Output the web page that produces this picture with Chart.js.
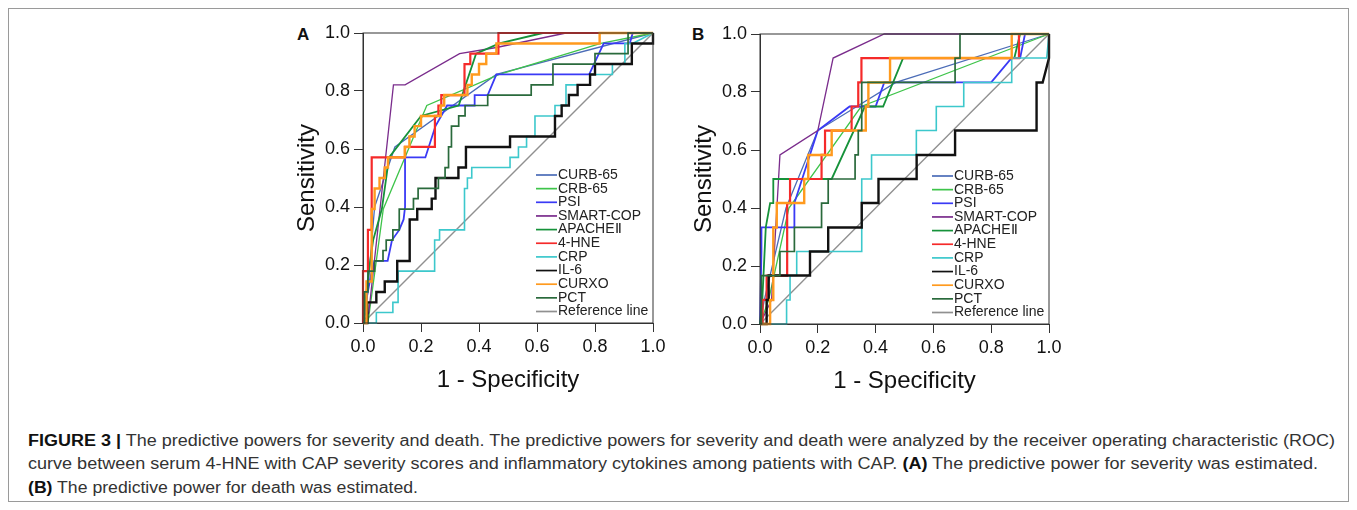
<!DOCTYPE html>
<html>
<head>
<meta charset="utf-8">
<script src="https://cdn.jsdelivr.net/npm/chart.js@4.4.0/dist/chart.umd.min.js"></script>
<style>
  body { margin: 0; background: #fff; font-family: "Liberation Sans", Arial, sans-serif; }
  #frame { position: absolute; left: 8px; top: 8px; width: 1339px; height: 492px; border: 1px solid #9a9a9a; }
  .panel { position: absolute; }
  .tag { position: absolute; font-weight: bold; font-size: 17px; color: #111; }
  .cap { position: absolute; left: 28px; font-size: 16px; line-height: 20px; color: #333; white-space: nowrap; transform-origin: 0 0; }
  .cap b { color: #111; }
</style>
</head>
<body>
<div id="frame"></div>
<div class="tag" style="left:297px;top:25px">A</div>
<div class="tag" style="left:692px;top:25px">B</div>
<div class="panel" style="left:285px;top:15px"><canvas id="chartA" width="385" height="385"></canvas></div>
<div class="panel" style="left:682px;top:16px"><canvas id="chartB" width="384" height="385"></canvas></div>
<div class="cap" data-w="1307" style="top:431px"><b>FIGURE 3 |</b> The predictive powers for severity and death. The predictive powers for severity and death were analyzed by the receiver operating characteristic (ROC)</div>
<div class="cap" data-w="1290" style="top:454px">curve between serum 4-HNE with CAP severity scores and inflammatory cytokines among patients with CAP. <b>(A)</b> The predictive power for severity was estimated.</div>
<div class="cap" data-w="390" style="top:478px"><b>(B)</b> The predictive power for death was estimated.</div>

<script>
  const fam = '"Liberation Sans", Arial, sans-serif';
  const seriesNames = ['CURB-65', 'CRB-65', 'PSI', 'SMART-COP', 'APACHEⅡ', '4-HNE', 'CRP', 'IL-6', 'CURXO', 'PCT', 'Reference line'];
  const tickLabels = ['0.0', '0.2', '0.4', '0.6', '0.8', '1.0'];

  // panel A - severity (points are [1 - specificity, sensitivity])
  const curb65A = [[0,0],[0.01,0.036],[0.04,0.4],[0.11,0.607],[0.46,0.857],[1,1]];
  const crb65A = [[0,0],[0.017,0],[0.07,0.393],[0.22,0.75],[0.47,0.857],[0.82,0.964],[1,1]];
  const psiA = [[0,0],[0.01,0.071],[0.03,0.179],[0.04,0.214],[0.085,0.214],[0.1,0.286],[0.125,0.321],[0.14,0.357],[0.145,0.4],[0.145,0.571],[0.215,0.571],[0.25,0.679],[0.29,0.75],[0.385,0.75],[0.385,0.786],[0.43,0.786],[0.46,0.857],[0.78,0.857],[0.83,0.964],[0.92,0.964],[0.93,1],[1,1]];
  const smartCopA = [[0,0],[0.02,0.036],[0.105,0.821],[0.145,0.821],[0.333,0.929],[0.46,0.95],[0.7,1],[1,1]];
  const apacheA = [[0,0],[0.02,0.179],[0.035,0.286],[0.065,0.393],[0.09,0.571],[0.2,0.714],[0.33,0.75],[0.39,0.929],[0.47,0.964],[0.62,1],[1,1]];
  const hneA = [[0,0],[0,0.179],[0.017,0.179],[0.017,0.321],[0.03,0.321],[0.03,0.571],[0.145,0.571],[0.145,0.607],[0.248,0.607],[0.248,0.714],[0.26,0.714],[0.26,0.75],[0.27,0.75],[0.27,0.786],[0.35,0.786],[0.35,0.893],[0.37,0.893],[0.37,0.929],[0.467,0.929],[0.467,1],[1,1]];
  const crpA = [[0,0],[0.046,0],[0.046,0.036],[0.103,0.036],[0.103,0.071],[0.121,0.071],[0.121,0.179],[0.247,0.179],[0.247,0.286],[0.264,0.286],[0.264,0.321],[0.35,0.321],[0.35,0.464],[0.36,0.464],[0.36,0.5],[0.375,0.5],[0.375,0.536],[0.507,0.536],[0.507,0.571],[0.536,0.571],[0.536,0.607],[0.564,0.607],[0.564,0.643],[0.593,0.643],[0.593,0.714],[0.662,0.714],[0.662,0.75],[0.7,0.75],[0.7,0.821],[0.783,0.821],[0.783,0.857],[0.86,0.857],[0.86,0.893],[0.903,0.893],[0.903,0.964],[0.93,0.964],[1,1]];
  const il6A = [[0,0],[0.015,0],[0.015,0.071],[0.046,0.071],[0.046,0.107],[0.075,0.107],[0.075,0.143],[0.118,0.143],[0.118,0.214],[0.161,0.214],[0.161,0.357],[0.187,0.357],[0.187,0.393],[0.237,0.393],[0.237,0.429],[0.25,0.429],[0.25,0.5],[0.329,0.5],[0.329,0.536],[0.355,0.536],[0.355,0.607],[0.507,0.607],[0.507,0.643],[0.662,0.643],[0.662,0.714],[0.685,0.714],[0.685,0.75],[0.71,0.75],[0.71,0.786],[0.74,0.786],[0.74,0.821],[0.783,0.821],[0.783,0.857],[0.8,0.857],[0.8,0.893],[0.927,0.893],[0.927,0.964],[1,0.964],[1,1]];
  const curxoA = [[0,0],[0.012,0],[0.012,0.143],[0.03,0.143],[0.03,0.393],[0.04,0.393],[0.04,0.464],[0.057,0.464],[0.057,0.5],[0.075,0.5],[0.075,0.536],[0.086,0.536],[0.086,0.571],[0.144,0.571],[0.144,0.607],[0.16,0.607],[0.16,0.643],[0.178,0.643],[0.178,0.679],[0.2,0.679],[0.2,0.714],[0.268,0.714],[0.268,0.75],[0.28,0.75],[0.28,0.786],[0.36,0.786],[0.36,0.821],[0.375,0.821],[0.375,0.857],[0.4,0.857],[0.4,0.893],[0.425,0.893],[0.425,0.929],[0.46,0.929],[0.46,0.964],[0.816,0.964],[0.816,1],[1,1]];
  const pctA = [[0,0],[0.005,0],[0.005,0.107],[0.017,0.107],[0.017,0.179],[0.04,0.179],[0.04,0.214],[0.069,0.214],[0.069,0.25],[0.08,0.25],[0.08,0.286],[0.103,0.286],[0.103,0.321],[0.125,0.321],[0.125,0.393],[0.174,0.393],[0.174,0.429],[0.19,0.429],[0.19,0.464],[0.26,0.464],[0.26,0.5],[0.283,0.5],[0.283,0.536],[0.295,0.536],[0.295,0.607],[0.305,0.607],[0.305,0.679],[0.33,0.679],[0.33,0.714],[0.352,0.714],[0.352,0.75],[0.43,0.75],[0.43,0.786],[0.58,0.786],[0.58,0.821],[0.655,0.821],[0.655,0.893],[0.8,0.893],[0.8,0.929],[0.914,0.929],[0.914,1],[1,1]];

  // panel B - death
  const curb65B = [[0,0],[0.015,0.083],[0.09,0.4],[0.2,0.667],[0.47,0.833],[1,1]];
  const crb65B = [[0,0],[0.03,0.083],[0.1,0.4],[0.35,0.75],[1,1]];
  const psiB = [[0,0],[0.005,0.25],[0.005,0.333],[0.119,0.333],[0.119,0.417],[0.2,0.667],[0.31,0.75],[0.4,0.75],[0.43,0.833],[0.8,0.833],[0.87,0.917],[0.9,0.917],[0.917,1],[1,1]];
  const smartCopB = [[0,0],[0.04,0.083],[0.069,0.583],[0.2,0.667],[0.253,0.917],[0.43,1],[1,1]];
  const apacheB = [[0,0],[0.008,0.083],[0.02,0.333],[0.035,0.417],[0.046,0.417],[0.046,0.5],[0.248,0.5],[0.363,0.75],[0.426,0.75],[0.495,0.917],[0.88,0.917],[0.9,1],[1,1]];
  const hneB = [[0,0],[0.009,0],[0.009,0.083],[0.023,0.083],[0.023,0.167],[0.094,0.167],[0.094,0.417],[0.104,0.417],[0.104,0.5],[0.213,0.5],[0.213,0.583],[0.225,0.583],[0.225,0.667],[0.317,0.667],[0.317,0.75],[0.34,0.75],[0.34,0.833],[0.351,0.833],[0.351,0.917],[0.896,0.917],[0.896,1],[1,1]];
  const crpB = [[0,0],[0.092,0],[0.092,0.083],[0.104,0.083],[0.104,0.167],[0.127,0.167],[0.127,0.25],[0.352,0.25],[0.352,0.5],[0.386,0.5],[0.386,0.583],[0.541,0.583],[0.541,0.667],[0.61,0.667],[0.61,0.75],[0.705,0.75],[0.705,0.833],[0.871,0.833],[0.871,0.917],[0.992,0.917],[1,1]];
  const il6B = [[0,0],[0.023,0],[0.023,0.083],[0.03,0.083],[0.03,0.167],[0.173,0.167],[0.173,0.25],[0.236,0.25],[0.236,0.333],[0.352,0.333],[0.352,0.417],[0.41,0.417],[0.41,0.5],[0.542,0.5],[0.542,0.583],[0.675,0.583],[0.675,0.667],[0.957,0.667],[0.957,0.833],[0.978,0.833],[1,0.917],[1,1]];
  const curxoB = [[0,0],[0.035,0],[0.035,0.083],[0.046,0.083],[0.046,0.333],[0.058,0.333],[0.058,0.417],[0.153,0.417],[0.153,0.5],[0.167,0.5],[0.167,0.583],[0.248,0.583],[0.248,0.667],[0.366,0.667],[0.366,0.75],[0.375,0.75],[0.375,0.833],[0.45,0.833],[0.45,0.917],[0.871,0.917],[0.871,1],[1,1]];
  const pctB = [[0,0],[0.005,0],[0.005,0.167],[0.069,0.167],[0.069,0.25],[0.119,0.25],[0.119,0.333],[0.213,0.333],[0.213,0.417],[0.236,0.417],[0.236,0.5],[0.329,0.5],[0.329,0.583],[0.34,0.583],[0.34,0.667],[0.352,0.667],[0.352,0.833],[0.675,0.833],[0.675,0.917],[0.692,0.917],[0.692,1],[1,1]];

  const refLine = [[0,0],[1,1]];

  const colors = ['#4b6cb7', '#3ec44a', '#3a3af5', '#7a2c8c', '#16923a', '#f52a2a', '#3cc8cc', '#111111', '#ff9a1e', '#2a6a3c', '#909090'];
  const widths = [1.3, 1.3, 1.8, 1.3, 1.8, 2.2, 1.6, 2.4, 2.4, 1.7, 1.4];

  // plot frame + legend inside lower right of the plot
  const framePlugin = {
    id: 'frameLegend',
    afterDraw(chart) {
      const { ctx, chartArea: a } = chart;
      ctx.save();
      ctx.strokeStyle = '#333';
      ctx.lineWidth = 1;
      ctx.strokeRect(a.left, a.top, a.right - a.left, a.bottom - a.top);
      ctx.font = '14px ' + fam;
      ctx.textBaseline = 'middle';
      const ds = chart.data.datasets;
      ds.forEach((d, i) => {
        const y = a.bottom - 11.5 - (ds.length - 1 - i) * 13.65;
        ctx.strokeStyle = d.borderColor;
        ctx.lineWidth = 1.7;
        ctx.beginPath();
        ctx.moveTo(a.right - 117, y);
        ctx.lineTo(a.right - 96, y);
        ctx.stroke();
        ctx.fillStyle = '#222';
        ctx.fillText(d.label, a.right - 95, y);
      });
      ctx.restore();
    }
  };

  function axis(which, text) {
    return {
      type: 'linear', min: 0, max: 1,
      ticks: { stepSize: 0.2, color: '#111', padding: 4, font: { size: 18, family: fam },
               callback: v => tickLabels[Math.round(v * 5)] },
      grid: { drawOnChartArea: false, drawTicks: true, tickLength: 9, color: '#333' },
      border: { display: true, color: '#333', width: 1 },
      title: { display: true, text: text, color: '#111', font: { size: 24, family: fam },
               padding: which === 'x' ? { top: 0, bottom: 5 } : { top: 8, bottom: 0 } },
      afterFit: s => { if (which === 'x') s.height = 77; else s.width = 78; }
    };
  }

  function makeChart(id, series) {
    const datasets = series.map((pts, i) => ({
      label: seriesNames[i],
      data: pts.map(p => ({ x: p[0], y: p[1] })),
      borderColor: colors[i],
      borderWidth: widths[i],
      showLine: true,
      pointRadius: 0,
      tension: 0,
      fill: false,
      clip: false,
      order: i === series.length - 1 ? 100 : -i
    }));
    new Chart(document.getElementById(id), {
      type: 'scatter',
      data: { datasets },
      options: {
        responsive: false,
        animation: false,
        layout: { padding: { top: 18, right: 17, left: 0, bottom: 0 } },
        plugins: { legend: { display: false }, tooltip: { enabled: false } },
        scales: { x: axis('x', '1 - Specificity'), y: axis('y', 'Sensitivity') }
      },
      plugins: [framePlugin]
    });
  }

  makeChart('chartA', [curb65A, crb65A, psiA, smartCopA, apacheA, hneA, crpA, il6A, curxoA, pctA, refLine]);
  makeChart('chartB', [curb65B, crb65B, psiB, smartCopB, apacheB, hneB, crpB, il6B, curxoB, pctB, refLine]);

  // squeeze caption lines to the widths of the original
  document.querySelectorAll('.cap').forEach(el => {
    const w = el.getBoundingClientRect().width;
    el.style.transform = 'scaleX(' + (Number(el.dataset.w) / w) + ')';
  });
</script>
</body>
</html>
